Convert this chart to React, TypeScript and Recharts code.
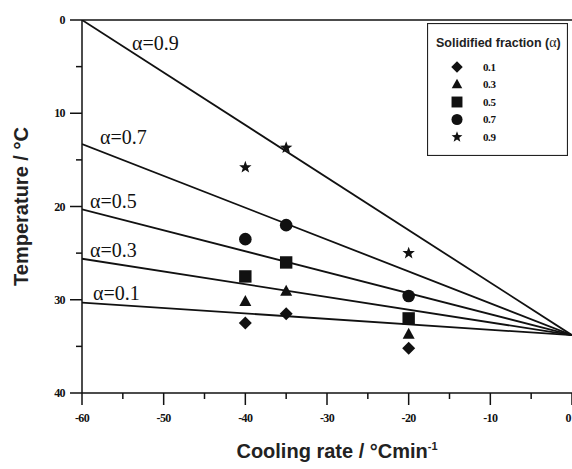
import React from "react";
import {
  ComposedChart,
  LabelList,
  Legend,
  Line,
  ReferenceLine,
  Scatter,
  XAxis,
  YAxis,
} from "recharts";

// measured cooling rates (°C/min) and temperatures for each solidified fraction
const coolingRates = [-40, -35, -20];
const fractions = ["0.1", "0.3", "0.5", "0.7", "0.9"];
const temps01 = [32.5, 31.5, 35.2];
const temps03 = [30.2, 29.1, 33.7];
const temps05 = [27.5, 26.0, 32.0];
const temps07 = [23.5, 22.0, 29.6];
const temps09 = [15.8, 13.7, 25.0];

// fitted lines: value at -60 °C/min, all meeting at 0 °C/min
const fitRates = [-60, 0];
const fitStart = [30.3, 25.6, 20.3, 13.3, 0];
const fitEnd = 33.8;

const xTicks = [-60, -55, -50, -45, -40, -35, -30, -25, -20, -15, -10, -5, 0];
const yTicks = [0, 5, 10, 15, 20, 25, 30, 35, 40];

const shapes = ["diamond", "triangle", "square", "circle", "star"];
// where the "α=..." text sits relative to the start of each line
const labelOffsets = [
  { dx: 11, dy: -3 },
  { dx: 8, dy: -2 },
  { dx: 8, dy: -1.5 },
  { dx: 18, dy: 0 },
  { dx: 50, dy: 30 },
];

const measured = [temps01, temps03, temps05, temps07, temps09].map((ts) =>
  ts.map((t, i) => ({ x: coolingRates[i], y: t }))
);
const fits = fitStart.map((s) => [
  { x: fitRates[0], y: s },
  { x: fitRates[1], y: fitEnd },
]);

const INK = "#111";
const SERIF = "'Liberation Serif', 'Times New Roman', serif";
const SANS = "'Liberation Sans', Arial, sans-serif";

const Marker = ({ kind, cx, cy, s = 1 }: any) => {
  if (cx == null || cy == null) return null;
  if (kind === "diamond") {
    const r = 6.5 * s;
    return (
      <polygon
        points={`${cx},${cy - r} ${cx + r},${cy} ${cx},${cy + r} ${cx - r},${cy}`}
        fill={INK}
      />
    );
  }
  if (kind === "triangle") {
    const w = 6 * s;
    const h = 11 * s;
    return (
      <polygon
        points={`${cx},${cy - h * 0.6} ${cx + w},${cy + h * 0.4} ${cx - w},${cy + h * 0.4}`}
        fill={INK}
      />
    );
  }
  if (kind === "square") {
    const r = 6.2 * s;
    return <rect x={cx - r} y={cy - r} width={2 * r} height={2 * r} fill={INK} />;
  }
  if (kind === "circle") {
    return <circle cx={cx} cy={cy} r={6.3 * s} fill={INK} />;
  }
  const pts: string[] = [];
  for (let k = 0; k < 10; k++) {
    const r = (k % 2 === 0 ? 6.5 : 2.7) * s;
    const a = -Math.PI / 2 + (k * Math.PI) / 5;
    pts.push(`${cx + r * Math.cos(a)},${cy + r * Math.sin(a)}`);
  }
  return <polygon points={pts.join(" ")} fill={INK} />;
};

const XTick = ({ x, y, payload }: any) => {
  const major = payload.value % 10 === 0;
  const last = payload.value === 0;
  return (
    <g>
      <line x1={x} x2={x} y1={y} y2={y + (major ? 12 : 6)} stroke={INK} strokeWidth={1.5} />
      {major && (
        <text
          x={last ? x - 1 : x}
          y={y + 29}
          textAnchor={last ? "end" : "middle"}
          fontFamily={SERIF}
          fontWeight="bold"
          fontSize={12}
          letterSpacing={-0.6}
          fill={INK}
        >
          {payload.value}
        </text>
      )}
    </g>
  );
};

const YTick = ({ x, y, payload }: any) => {
  const major = payload.value % 10 === 0;
  return (
    <g>
      <line x1={x - (major ? 12 : 6)} x2={x} y1={y} y2={y} stroke={INK} strokeWidth={1.5} />
      {major && (
        <text
          x={x - 17}
          y={y + 4}
          textAnchor="end"
          fontFamily={SERIF}
          fontWeight="bold"
          fontSize={12}
          letterSpacing={-0.6}
          fill={INK}
        >
          {payload.value}
        </text>
      )}
    </g>
  );
};

const XLabel = ({ viewBox }: any) => (
  <text
    x={viewBox.x + viewBox.width / 2 + 10}
    y={viewBox.y + 65}
    textAnchor="middle"
    fontFamily={SANS}
    fontWeight="bold"
    fontSize={20}
    fill="#222"
  >
    Cooling rate / °Cmin
    <tspan fontSize={11} dy={-8}>
      -1
    </tspan>
  </text>
);

const YLabel = ({ viewBox }: any) => {
  const cx = 28;
  const cy = viewBox.y + viewBox.height / 2;
  return (
    <text
      x={cx}
      y={cy}
      transform={`rotate(-90, ${cx}, ${cy})`}
      textAnchor="middle"
      fontFamily={SANS}
      fontWeight="bold"
      fontSize={20}
      fill="#222"
    >
      Temperature / °C
    </text>
  );
};

const LegendBox = ({ payload }: any) => {
  const items = (payload || []).filter((p: any) => fractions.includes(String(p.value)));
  return (
    <svg width={141} height={133} style={{ display: "block" }}>
      <rect x={0.5} y={0.5} width={140} height={132} fill="#fff" stroke="#222" strokeWidth={1.2} />
      <text x={9} y={24} fontFamily={SANS} fontWeight="bold" fontSize={12.5} fill="#222">
        Solidified fraction (
        <tspan fontFamily={SERIF} fontWeight="normal" fontSize={14}>
          α
        </tspan>
        )
      </text>
      {items.map((p: any, i: number) => {
        const cy = 44 + i * 17.5;
        const kind = shapes[fractions.indexOf(String(p.value))];
        return (
          <g key={p.value}>
            <Marker kind={kind} cx={30} cy={cy} s={0.88} />
            <text x={56} y={cy + 3.5} fontFamily={SERIF} fontWeight="bold" fontSize={11} letterSpacing={-0.4} fill={INK}>
              {p.value}
            </text>
          </g>
        );
      })}
    </svg>
  );
};

export default function App() {
  return (
    <div style={{ width: 572, height: 469, background: "#fff" }}>
      <style>{"body{margin:0;background:#fff}"}</style>
      <ComposedChart width={572} height={469} margin={{ top: 20, right: 0, bottom: 0, left: 0 }}>
        <XAxis
          dataKey="x"
          type="number"
          domain={[-60, 0]}
          ticks={xTicks}
          interval={0}
          tick={<XTick />}
          tickLine={false}
          tickSize={0}
          tickMargin={0}
          axisLine={{ stroke: INK, strokeWidth: 1.5 }}
          height={76}
          allowDataOverflow
          label={<XLabel />}
        />
        <YAxis
          dataKey="y"
          type="number"
          domain={[0, 40]}
          reversed
          ticks={yTicks}
          interval={0}
          tick={<YTick />}
          tickLine={false}
          tickSize={0}
          tickMargin={0}
          axisLine={{ stroke: INK, strokeWidth: 1.5 }}
          width={82}
          allowDataOverflow
          label={<YLabel />}
        />
        <ReferenceLine y={0} stroke={INK} strokeWidth={1.5} />
        {fits.map((d, i) => (
          <Line
            key={`fit-${i}`}
            data={d}
            dataKey="y"
            stroke={INK}
            strokeWidth={1.8}
            dot={false}
            activeDot={false}
            legendType="none"
            isAnimationActive={false}
          >
            <LabelList
              dataKey="y"
              content={(p: any) => {
                const vb = p.viewBox || {};
                const px = p.x ?? vb.x;
                const py = p.y ?? vb.y;
                if (p.index !== 0 || px == null) return null;
                return (
                  <text
                    x={px + labelOffsets[i].dx}
                    y={py + labelOffsets[i].dy}
                    fontFamily={SERIF}
                    fontSize={20}
                    fill={INK}
                  >
                    α=0.{fractions[i].slice(2)}
                  </text>
                );
              }}
            />
          </Line>
        ))}
        {measured.map((d, i) => (
          <Scatter
            key={`pts-${i}`}
            name={fractions[i]}
            data={d}
            dataKey="y"
            fill={INK}
            shape={(p: any) => <Marker kind={shapes[i]} cx={p.cx} cy={p.cy} />}
            isAnimationActive={false}
          />
        ))}
        <Legend
          layout="vertical"
          align="center"
          verticalAlign="middle"
          content={<LegendBox />}
          wrapperStyle={{ position: "absolute", left: 427, top: 23, width: 141, height: 133 }}
        />
      </ComposedChart>
    </div>
  );
}
